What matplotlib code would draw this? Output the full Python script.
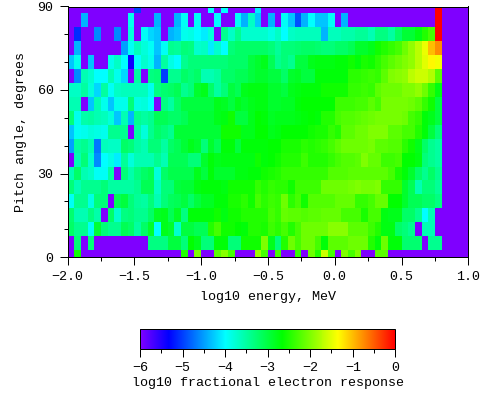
import numpy as np
import matplotlib
matplotlib.use("Agg")
import matplotlib.pyplot as plt
from matplotlib.colors import LinearSegmentedColormap, Normalize
from matplotlib.cm import ScalarMappable
from matplotlib.ticker import FixedLocator

plt.rcParams["font.family"] = ["Liberation Mono", "DejaVu Sans Mono"]
plt.rcParams["font.size"] = 9.6

P = -6.0  # below the colour range, drawn purple

# log10 response, one row per pitch angle bin (0, 5 ... 90 deg), columns start at log10 E = -2.0
r00 = [P,-2.6,P,P,P,P,P,P,P,P, P,P,P,P,P,P,P,-2.5,P,-2.0, P,P,-2.2,-1.95,-2.3,P,P,P,-1.85,-2.3, P,-2.3,P,P,-2.4,P,-2.1,-2.5,-1.6,-2.3, P,-2.0,-2.3,-2.0,P,P,-2.2,-2.2,P,P, P,P,P,P,P,P]
r05 = [P,-3.3,P,-3.3,P,P,P,P,P,P, P,P,-3.35,-3.35,-3.35,-3.0,-3.0,-3.3,-2.65,-2.8, -3.3,-3.3,-2.7,-2.7,-3.3,-3.3,-2.6,-2.6,-2.6,-2.0, -2.8,-3.3,-2.5,-2.1,-2.3,-2.1,-2.1,-2.3,-2.7,-2.2, -2.2,-2.2,-2.1,-2.1,-2.1,-2.5,-2.7,-2.1,-2.7,-2.7, -3.25,-3.25,-3.25,P,-3.4,-3.4]
r10 = [-3.2,-3.4,-3.4,-3.95,-2.95,-3.3,-3.4,-3.4,-3.1,-3.2, -3.5,-3.2,-2.9,-4.0,-2.8,-2.9,-3.75,-3.0,-3.0,-3.1, -3.1,-2.5,-2.3,-2.6,-2.6,-2.65,-2.7,-2.5,-2.5,-2.55, -2.35,-2.45,-2.3,-2.5,-2.3,-2.1,-2.1,-2.1,-2.1,-1.95, -1.95,-1.95,-2.2,-2.2,-2.2,-2.35,-2.5,-2.75,-2.75,-3.2, -3.3,-3.4,P,-3.6,-3.6,P]
r15 = [-3.25,-3.6,-3.6,-3.35,-3.55,P,-3.2,-3.75,-3.35,-3.3, -3.4,-3.4,-3.2,-2.85,-2.8,-3.1,-2.85,-3.35,-2.7,-2.7, -2.7,-2.7,-2.6,-2.75,-2.6,-2.6,-2.5,-2.5,-2.5,-2.5, -2.3,-2.4,-2.15,-2.2,-2.2,-2.25,-2.2,-2.2,-2.15,-2.15, -2.15,-2.3,-2.3,-2.3,-2.55,-2.3,-2.3,-2.75,-2.8,-2.8, -3.2,-3.2,-3.4,-4.0,-3.6,P]
r20 = [-3.95,-3.4,-3.4,-3.85,-3.3,-3.3,P,-3.1,-3.0,-3.3, -3.45,-3.5,-3.3,-3.6,-3.3,-3.15,-3.1,-3.0,-3.2,-3.0, -2.85,-2.85,-2.7,-2.7,-2.55,-2.55,-2.45,-2.6,-2.3,-2.45, -2.35,-2.4,-2.1,-2.45,-2.3,-2.6,-2.25,-2.25,-2.25,-2.25, -2.15,-2.15,-2.15,-2.4,-2.4,-2.3,-2.15,-2.15,-2.65,-2.65, -2.9,-3.1,-3.1,-3.2,-3.2,-3.35]
r25 = [-3.3,-3.6,-3.4,-3.4,-3.4,-3.3,-3.5,-3.5,-3.5,-3.5, -3.4,-3.1,-3.1,-3.7,-3.3,-3.3,-3.0,-2.95,-2.95,-2.75, -2.7,-2.7,-2.7,-2.75,-2.6,-2.6,-2.6,-2.6,-2.4,-2.5, -2.4,-2.45,-2.45,-2.6,-2.35,-2.35,-2.35,-2.35,-2.1,-2.1, -2.1,-2.1,-2.05,-2.0,-2.05,-2.05,-2.0,-2.4,-2.4,-2.4, -2.9,-3.1,-3.6,-3.3,-3.3,-3.45]
r30 = [-3.6,-3.2,-3.6,-3.7,-3.95,-3.95,-3.5,P,-3.3,-3.55, -3.35,-3.2,-3.1,-3.8,-3.2,-3.05,-3.05,-3.05,-3.05,-2.8, -3.0,-2.7,-2.9,-2.9,-2.9,-2.75,-2.75,-2.7,-2.7,-2.6, -2.55,-2.5,-2.4,-2.4,-2.4,-2.4,-2.4,-2.4,-2.4,-2.25, -2.25,-2.25,-2.2,-2.2,-2.2,-2.2,-2.2,-2.2,-2.3,-2.55, -2.7,-2.9,-3.2,-3.4,-3.2,-3.4]
r35 = [P,-3.6,-3.3,-3.75,-4.6,-4.0,-3.85,-4.1,-3.45,-3.8, -3.6,-3.6,-3.6,-3.4,-3.6,-3.1,-3.1,-3.1,-3.3,-3.3, -2.9,-2.7,-2.8,-2.75,-2.75,-2.75,-2.75,-2.75,-2.6,-2.7, -2.65,-2.6,-2.5,-2.5,-2.5,-2.35,-2.5,-2.5,-2.5,-2.4, -2.3,-2.25,-2.25,-2.2,-2.0,-2.15,-2.15,-2.35,-2.35,-2.3, -2.65,-2.65,-2.75,-3.3,-3.4,-3.5]
r40 = [-4.5,-3.5,-3.4,-3.6,-4.7,-3.65,-3.7,-3.7,-3.2,-3.3, -3.5,-3.6,-3.3,-3.3,-3.5,-3.2,-3.1,-2.95,-2.8,-2.9, -3.3,-2.9,-3.1,-2.7,-2.7,-3.0,-2.7,-2.7,-2.7,-2.7, -2.65,-2.65,-2.55,-2.55,-2.55,-2.45,-2.5,-2.45,-2.4,-2.3, -2.2,-2.1,-2.1,-2.1,-2.1,-2.05,-2.2,-2.2,-2.25,-2.25, -2.45,-2.6,-2.8,-3.2,-3.4,-3.5]
r45 = [-4.3,-3.95,-3.9,-3.8,-3.85,-3.9,-3.4,-3.4,-3.4,P, -3.5,-3.8,-3.4,-3.2,-3.3,-3.4,-2.95,-2.95,-2.95,-2.95, -2.95,-2.95,-2.95,-2.6,-2.6,-2.6,-2.8,-2.8,-2.65,-2.65, -2.8,-2.75,-2.65,-2.65,-2.65,-2.65,-2.6,-2.55,-2.55,-2.4, -2.5,-2.2,-2.2,-2.1,-2.1,-2.0,-2.0,-2.0,-2.2,-2.2, -2.3,-2.3,-2.5,-2.7,-3.0,-3.3]
r50 = [-3.3,-3.9,-3.55,-3.5,-3.6,-3.65,-3.8,-4.3,-3.6,-4.4, -3.4,-3.5,-3.4,-3.1,-3.1,-3.2,-3.2,-3.1,-2.95,-2.95, -2.95,-2.95,-2.8,-2.75,-2.6,-3.0,-3.0,-2.8,-2.65,-2.7, -2.85,-2.8,-2.8,-2.8,-2.75,-2.7,-2.65,-2.7,-2.5,-2.5, -2.3,-2.25,-2.25,-2.2,-2.15,-2.1,-2.05,-2.05,-2.05,-2.05, -2.1,-2.3,-2.4,-2.7,-2.8,-3.0]
r55 = [-3.6,-3.6,P,-4.3,-3.6,-3.9,-4.3,-3.9,-3.9,-3.3, -3.85,-3.8,-4.0,P,-3.35,-3.5,-3.2,-3.0,-3.0,-3.0, -3.0,-3.0,-2.8,-2.85,-3.0,-2.8,-2.9,-2.8,-2.75,-2.75, -2.9,-2.9,-2.85,-2.85,-2.7,-2.65,-2.65,-2.65,-2.65,-2.65, -2.35,-2.35,-2.35,-2.3,-2.3,-2.2,-2.3,-2.05,-2.05,-2.05, -2.05,-2.1,-2.2,-2.4,-2.6,-3.0]
r60 = [-3.7,-3.7,-3.5,-3.8,-4.2,-3.5,-3.95,-3.7,-3.65,-3.65, -3.65,-3.65,-3.9,-3.35,-3.25,-3.2,-3.1,-3.4,-3.3,-2.9, -2.8,-3.2,-3.5,-3.3,-3.0,-3.1,-2.8,-2.75,-2.75,-2.75, -2.9,-2.9,-3.0,-2.8,-2.75,-2.7,-2.7,-2.7,-2.6,-2.6, -2.6,-2.6,-2.4,-2.4,-2.35,-2.4,-2.2,-2.1,-2.1,-2.1, -2.0,-2.0,-1.9,-2.1,-2.4,-2.75]
r65 = [P,-4.6,-3.6,-3.75,-4.0,-4.0,-3.6,-3.9,-4.2,P, -3.5,P,-3.35,-3.3,-5.0,-3.4,-3.4,-3.2,-3.3,-3.2, -3.6,-3.6,-3.5,-3.2,-3.2,-3.1,-3.1,-3.0,-2.9,-2.9, -3.0,-3.0,-3.2,-2.9,-2.85,-3.0,-3.0,-2.7,-2.7,-2.7, -2.7,-2.7,-2.45,-2.45,-2.4,-2.35,-2.4,-2.2,-2.0,-1.95, -1.9,-1.7,-1.6,-1.6,-1.75,-2.2]
r70 = [-4.3,-3.9,P,-4.3,P,P,-3.9,-3.7,-4.0,-5.4, -4.0,-3.75,-3.9,-4.4,-3.5,-3.85,-4.0,-3.4,-3.3,-3.3, -3.3,-3.3,-3.3,-3.3,-3.2,-3.2,-3.2,-3.0,-2.9,-2.8, -3.1,-3.4,-3.3,-3.4,-3.0,-3.0,-2.8,-2.75,-2.75,-2.75, -2.7,-2.7,-2.6,-2.7,-2.55,-2.6,-2.45,-2.3,-2.2,-2.1, -2.0,-1.9,-1.7,-1.5,-1.3,-1.4]
r75 = [P,-4.4,P,P,P,P,P,P,-4.5,-3.95, -3.65,-3.8,-3.95,-4.3,-3.95,-3.4,-3.45,-3.3,-3.35,-3.75, -3.7,-4.1,-3.75,-4.0,-3.3,-3.2,-3.2,-3.2,-3.2,-3.2, -3.3,-3.45,-3.3,-3.3,-3.25,-3.2,-3.2,-3.25,-3.3,-3.3, -3.2,-3.2,-3.1,-2.9,-2.9,-2.8,-2.6,-2.5,-2.4,-2.3, -2.1,-1.9,-1.7,-1.45,-1.0,-0.75]
r80 = [P,-5.1,P,P,-4.6,P,P,-4.6,P,-3.8, P,-3.95,-4.2,-4.3,P,-4.4,-4.3,-3.9,-3.85,-4.0, -4.1,-3.8,P,-3.4,-3.7,-3.4,-3.75,-3.75,-3.75,-3.75, -3.85,-3.7,-4.0,-3.7,-3.65,-3.65,-3.65,-3.65,-4.4,-3.65, -3.65,-3.55,-3.55,-3.45,-3.45,-3.6,-3.35,-3.35,-3.5,-3.2, -2.95,-2.95,-2.75,-2.5,-2.3,0.0]
r85 = [P,P,-4.4,P,P,P,P,P,P,-3.9, P,P,P,-4.4,P,P,-4.4,-3.95,P,-3.95, P,P,-4.0,P,P,-3.95,-4.4,-3.7,-4.3,P, -4.4,P,-3.95,-4.3,-4.9,-4.4,-4.0,-4.3,-4.3,-3.95, P,-4.4,P,P,P,P,P,P,P,P, P,P,P,P,P,0.0]
r90 = [P,P,P,P,P,P,P,P,P,P, -5.0,P,P,P,P,P,P,P,P,P, P,-4.0,P,-4.0,P,P,P,P,-4.1,P, P,P,P,P,P,P,P,P,P,P, P,P,P,P,P,P,P,P,P,P, P,P,P,P,P,0.0]

response_rows = [r00, r05, r10, r15, r20, r25, r30, r35, r40, r45, r50, r55, r60, r65, r70, r75, r80, r85, r90]

# the little dark specks sprinkled over the map
speck_energy = [-1.056, -0.906, -0.598, -0.974, -0.808, -0.711, -0.561, -1.079, -0.899, -0.831, -0.666, -0.516, -0.966, -1.034, -1.109, -0.741, -0.914, -0.816, -0.606, -1.461, -1.379,
                -0.36, -0.285, 0.03, -0.037, -0.427, -0.225, 0.091, 0.316, 0.473, 0.541, -0.30, -0.18, 0.218, 0.383, -0.24, -0.067, -0.36, 0.586, -0.45, -0.172, 0.023, 0.233, 0.496,
                -0.30, -0.24, -0.06, 0.076, 0.173, 0.398, -0.375, 0.556, -0.18, 0.12, 0.473, -0.367, 0.03, 0.128, 0.278, 0.383, -0.045, -0.105]
speck_pitch = [39.1, 42.7, 38.8, 33.0, 34.4, 35.5, 28.0, 28.2, 19.0, 19.7, 14.3, 13.9, 13.6, 10.7, 16.4, 9.2, 7.8, 8.2, 6.7, 7.8, 13.9,
               39.1, 38.8, 39.8, 38.0, 33.7, 34.4, 34.4, 35.9, 32.6, 31.9, 30.1, 29.0, 29.4, 28.0, 26.5, 24.7, 23.6, 25.8, 20.0, 21.1, 20.0, 20.4, 20.0,
               18.6, 17.9, 17.5, 17.9, 17.2, 16.4, 16.1, 13.9, 12.5, 11.0, 7.1, 4.6, 4.2, 3.1, 3.5, 3.5, 52.1, 46.3]

x_major = [-2.0, -1.5, -1.0, -0.5, 0.0, 0.5, 1.0]
x_minor = [-1.75, -1.25, -0.75, -0.25, 0.25, 0.75]
y_major = [0, 30, 60, 90]
y_minor = [10, 20, 40, 50, 70, 80]
cbar_major = [-6, -5, -4, -3, -2, -1, 0]
cbar_minor = [-5.5, -4.5, -3.5, -2.5, -1.5, -0.5]

W, H = 503, 396

cmap = LinearSegmentedColormap.from_list("response", [
    (0.0, "#7f00ff"),
    (1 / 9, "#0000ff"),
    (3 / 9, "#00ffff"),
    (5 / 9, "#00ff00"),
    (7 / 9, "#ffff00"),
    (1.0, "#ff0000"),
], N=256)
norm = Normalize(-6, 0)


def style_ticks(ax):
    ax.tick_params(which="major", length=6, width=0.72, pad=4, direction="out")
    ax.tick_params(which="minor", length=3, width=0.72, direction="out")
    for spine in ax.spines.values():
        spine.set_linewidth(0.72)


fig = plt.figure(figsize=(W / 100, H / 100), dpi=100, facecolor="white")
ax = fig.add_axes([67.5 / W, 1 - 257 / H, (468.3 - 67.5) / W, (257 - 6.5) / H], facecolor="#7f00ff")

values = np.array(response_rows)
x_edges = -2.0 + 0.05 * np.arange(values.shape[1] + 1)
y_edges = -2.5 + 5.0 * np.arange(values.shape[0] + 1)
ax.pcolormesh(x_edges, y_edges, values, cmap=cmap, norm=norm, shading="flat", antialiased=False)
ax.scatter(speck_energy, speck_pitch, s=0.35, marker="s", c="#201030", alpha=0.75, linewidths=0, zorder=3)

ax.set_xlim(-2.0, 1.0)
ax.set_ylim(0, 90)
ax.xaxis.set_major_locator(FixedLocator(x_major))
ax.xaxis.set_minor_locator(FixedLocator(x_minor))
ax.yaxis.set_major_locator(FixedLocator(y_major))
ax.yaxis.set_minor_locator(FixedLocator(y_minor))
ax.set_xticklabels([f"{v:.1f}".replace("-", "\u2212") for v in x_major])
style_ticks(ax)
ax.set_xlabel("log10 energy, MeV", labelpad=6)
ax.set_ylabel("Pitch angle, degrees", labelpad=7.5)

cax = fig.add_axes([140 / W, 1 - 348.5 / H, (395.3 - 140) / W, (348.5 - 329.3) / H])
cbar = fig.colorbar(ScalarMappable(norm=norm, cmap=cmap), cax=cax, orientation="horizontal")
cbar.set_ticks(cbar_major)
cbar.set_ticks(cbar_minor, minor=True)
style_ticks(cax)
cbar.outline.set_linewidth(0.72)
cbar.set_label("log10 fractional electron response", labelpad=2)

fig.savefig("out.png", dpi=100, facecolor="white")
